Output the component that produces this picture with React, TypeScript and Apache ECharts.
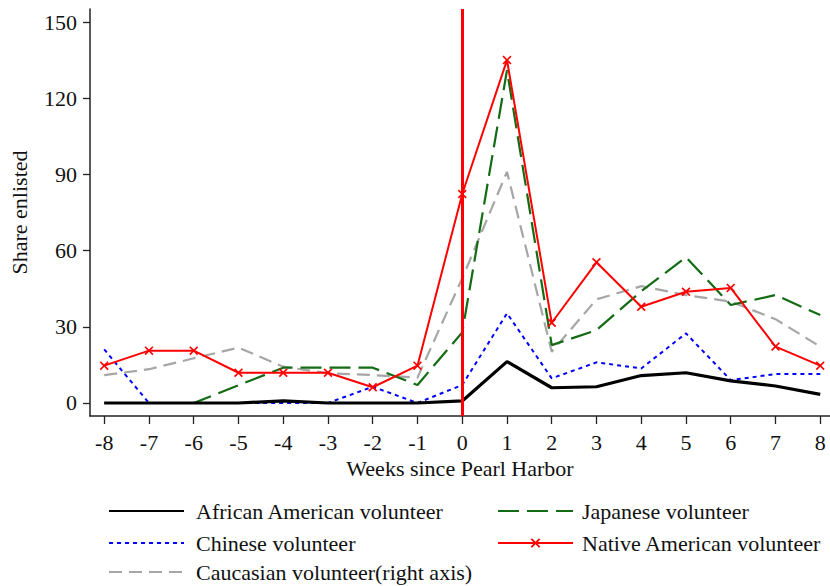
import React, { useEffect, useRef } from "react";
import * as echarts from "echarts";

const weeks = [-8, -7, -6, -5, -4, -3, -2, -1, 0, 1, 2, 3, 4, 5, 6, 7, 8];
const xTicks = [-8, -7, -6, -5, -4, -3, -2, -1, 0, 1, 2, 3, 4, 5, 6, 7, 8];
const yTicks = [0, 30, 60, 90, 120, 150];

const africanAmerican = [0, 0, 0, 0, 0.8, 0, 0, 0, 0.8, 16.3, 6, 6.4, 10.8, 11.9, 8.7, 6.7, 3.4];
const chinese = [21.1, 0, 0, 0, 0, 0, 6.4, 0, 7.1, 35.3, 9.7, 16, 13.6, 27.4, 9, 11.4, 11.4];
const caucasian = [11, 13.3, 17.6, 21.8, 14.3, 11.7, 11, 10, 49.1, 91, 20.2, 40.8, 46, 42.5, 39.9, 33, 22.2];
const japanese = [0, 0, 0, 7, 13.9, 13.9, 13.9, 7.1, 27.8, 131, 22.8, 28.7, 44, 57.4, 38.6, 42.5, 34.6];
const nativeAmerican = [14.7, 20.6, 20.6, 11.9, 11.9, 11.9, 6.2, 14.7, 82.3, 135, 31.6, 55.4, 37.9, 43.8, 45.3, 22.2, 14.7];

const eventWeek = 0;

const NAMES = {
  african: "African American volunteer",
  chinese: "Chinese volunteer",
  caucasian: "Caucasian volunteer(right axis)",
  japanese: "Japanese volunteer",
  native: "Native American volunteer",
};

const FONT = '"Liberation Serif", "Times New Roman", serif';
const FS = 22;
const X_SYMBOL = "path://M0,1.3 L1.3,0 L5,3.7 L8.7,0 L10,1.3 L6.3,5 L10,8.7 L8.7,10 L5,6.3 L1.3,10 L0,8.7 L3.7,5 Z";

const pair = (vals: number[]) => weeks.map((w, i) => [w, vals[i]]);

export default function App() {
  const ref = useRef<HTMLDivElement>(null);
  useEffect(() => {
    if (!ref.current) return;
    const chart = echarts.init(ref.current, undefined, { renderer: "svg" });
    const mkLegend = (name: string, left: number, top: number, gap: number, hideSymbol: boolean) => ({
      orient: "horizontal",
      left,
      top,
      padding: 0,
      itemWidth: 75,
      itemHeight: 12,
      textStyle: {
        fontFamily: FONT,
        fontSize: FS,
        color: "#111",
        lineHeight: 22,
        padding: [0, 0, 0, gap],
      },
      data: [hideSymbol ? { name, itemStyle: { opacity: 0 } } : { name }],
    });
    chart.setOption({
      animation: false,
      backgroundColor: "#fff",
      textStyle: { fontFamily: FONT },
      grid: { left: 90, right: 0, top: 9, bottom: 170, containLabel: false },
      xAxis: {
        type: "value",
        min: -8.318,
        max: 8.218,
        name: "Weeks since Pearl Harbor",
        nameLocation: "middle",
        nameGap: 33,
        nameTextStyle: { fontFamily: FONT, fontSize: FS, color: "#111" },
        axisLine: { show: true, onZero: false, lineStyle: { color: "#222", width: 1.5 } },
        axisTick: { show: true, length: 8, customValues: xTicks, lineStyle: { color: "#222", width: 1.3 } },
        axisLabel: { customValues: xTicks, fontFamily: FONT, fontSize: FS, color: "#111", margin: 15 },
        splitLine: { show: false },
      },
      yAxis: {
        type: "value",
        min: -5.12,
        max: 155.12,
        name: "Share enlisted",
        nameLocation: "middle",
        nameGap: 60,
        nameTextStyle: { fontFamily: FONT, fontSize: FS, color: "#111" },
        axisLine: { show: true, onZero: false, lineStyle: { color: "#222", width: 1.5 } },
        axisTick: { show: true, length: 7, customValues: yTicks, lineStyle: { color: "#222", width: 1.3 } },
        axisLabel: { customValues: yTicks, fontFamily: FONT, fontSize: FS, color: "#111", margin: 13 },
        splitLine: { show: false },
      },
      legend: [
        mkLegend(NAMES.african, 108, 500, 7, true),
        mkLegend(NAMES.chinese, 108, 532, 7, true),
        mkLegend(NAMES.caucasian, 108, 561, 7, true),
        mkLegend(NAMES.japanese, 497, 500, 4, true),
        mkLegend(NAMES.native, 497, 532, 4, false),
      ],
      series: [
        {
          name: NAMES.african,
          type: "line",
          data: pair(africanAmerican),
          symbol: "none",
          lineStyle: { color: "#000", width: 3.2 },
          itemStyle: { color: "#000" },
          z: 3,
        },
        {
          name: NAMES.chinese,
          type: "line",
          data: pair(chinese),
          symbol: "none",
          lineStyle: { color: "#0000ff", width: 2, type: [4, 4] },
          itemStyle: { color: "#0000ff" },
          z: 2,
        },
        {
          name: NAMES.caucasian,
          type: "line",
          data: pair(caucasian),
          symbol: "none",
          lineStyle: { color: "#a6a6a6", width: 2.2, type: [13, 7] },
          itemStyle: { color: "#a6a6a6" },
          z: 2,
        },
        {
          name: NAMES.japanese,
          type: "line",
          data: pair(japanese),
          symbol: "none",
          lineStyle: { color: "#136b13", width: 2.2, type: [21, 8] },
          itemStyle: { color: "#136b13" },
          z: 2,
        },
        {
          name: NAMES.native,
          type: "line",
          data: pair(nativeAmerican),
          symbol: X_SYMBOL,
          symbolSize: 9,
          showSymbol: true,
          lineStyle: { color: "#ff0000", width: 2 },
          itemStyle: { color: "#ff0000" },
          z: 4,
          markLine: {
            silent: true,
            symbol: "none",
            label: { show: false },
            lineStyle: { color: "#ff0000", width: 3, type: "solid" },
            data: [{ xAxis: eventWeek }],
          },
        },
      ],
    });
    return () => chart.dispose();
  }, []);
  return (
    <div
      ref={ref}
      style={{ position: "fixed", left: 0, top: 0, width: 830, height: 586, background: "#fff" }}
    />
  );
}
